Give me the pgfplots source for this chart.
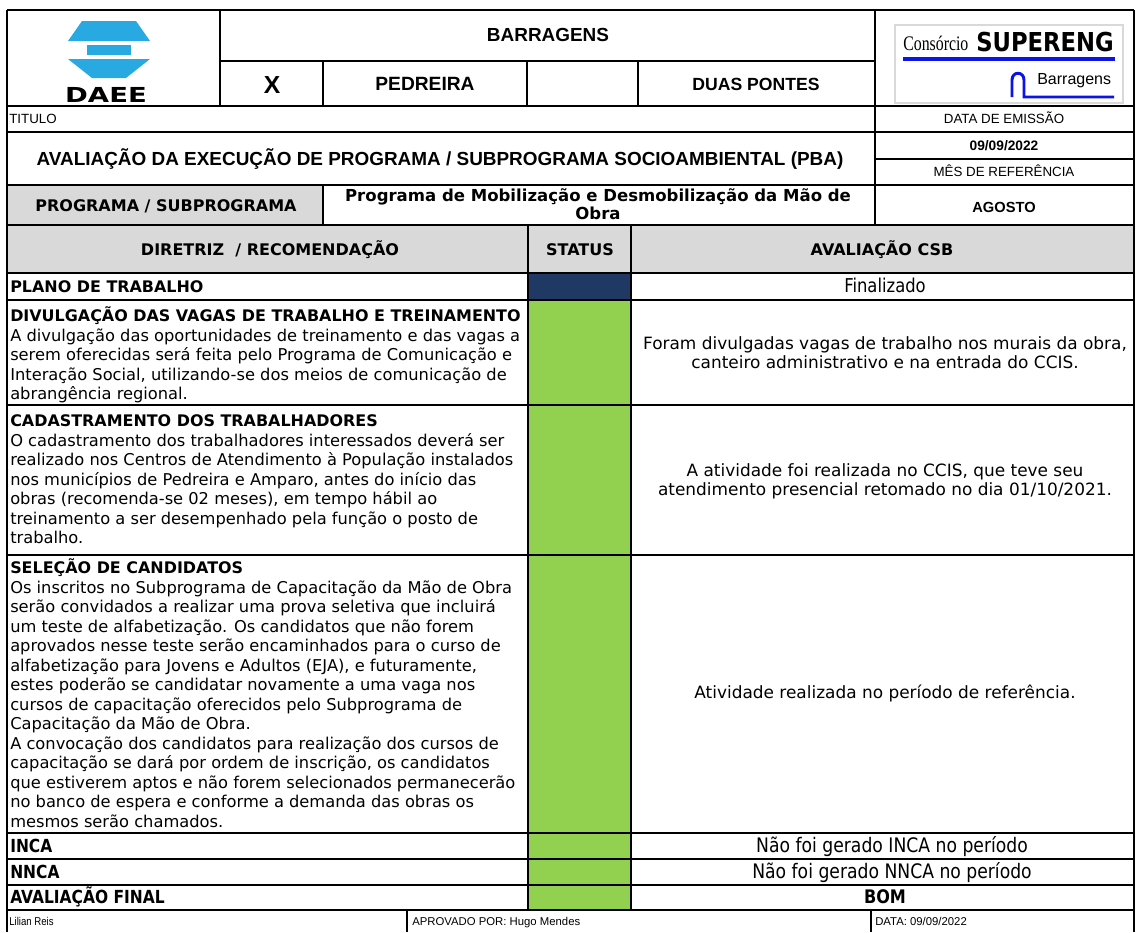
\documentclass[border=0pt]{standalone}
\usepackage{pgfplots}
\pgfplotsset{compat=1.18}
\usepackage{fontspec}
\usepackage{graphicx}
\setmainfont{DejaVu Sans}
\newfontfamily\arialf{Liberation Sans}
\newfontfamily\condf[FakeStretch=0.86]{DejaVu Sans}
\newfontfamily\timesf{Liberation Serif}
\newcommand{\fs}[1]{\fontsize{#1bp}{#1bp}\selectfont}
\definecolor{hdrgray}{HTML}{D9D9D9}
\definecolor{okgreen}{HTML}{92D050}
\definecolor{navy}{HTML}{1F3864}
\definecolor{daeeblue}{HTML}{29A9E1}
\definecolor{logoblue}{HTML}{0A14E6}
\newcommand{\bl}[2]{\node[anchor=base west,inner sep=0pt,font=\fs{12.2}] at (10,#1) {#2};}
\newcommand{\bh}[2]{\node[anchor=base west,inner sep=0pt,font=\fs{11.95}\bfseries] at (10,#1) {#2};}
\newcommand{\rc}[2]{\node[anchor=base,inner sep=0pt,font=\fs{12.7}] at (885,#1) {#2};}
\newcommand{\hl}[1]{\draw[line width=1.5bp] (7,#1) -- (1134,#1);}
\begin{document}
\begin{tikzpicture}
\begin{axis}[scale only axis, width=852bp, height=699bp,
  xmin=0, xmax=1136, ymin=0, ymax=932, y dir=reverse,
  hide axis, clip=false]
% background
\fill[white] (0,0) rectangle (1136,932);
% gray fills
\fill[hdrgray] (7,185) rectangle (323,225);
\fill[hdrgray] (7,225) rectangle (1134,273);
% status cells (data)
\addplot[fill=navy, draw=none] coordinates {(528,273) (631,273) (631,300) (528,300)} -- cycle;
\addplot[fill=okgreen, draw=none] coordinates {(528,300) (631,300) (631,405) (528,405)} -- cycle;
\addplot[fill=okgreen, draw=none] coordinates {(528,405) (631,405) (631,555) (528,555)} -- cycle;
\addplot[fill=okgreen, draw=none] coordinates {(528,555) (631,555) (631,833) (528,833)} -- cycle;
\addplot[fill=okgreen, draw=none] coordinates {(528,833) (631,833) (631,859) (528,859)} -- cycle;
\addplot[fill=okgreen, draw=none] coordinates {(528,859) (631,859) (631,885) (528,885)} -- cycle;
\addplot[fill=okgreen, draw=none] coordinates {(528,885) (631,885) (631,910) (528,910)} -- cycle;
% grid lines
\draw[line width=1.5bp] (7,10) -- (1134,10);
\draw[line width=1.5bp] (7,10) -- (7,932);
\draw[line width=1.5bp] (1134,10) -- (1134,932);
\hl{106}\hl{132}\hl{185}\hl{225}\hl{273}\hl{300}\hl{405}\hl{555}\hl{833}\hl{859}\hl{885}\hl{910}
\draw[line width=1.5bp] (220,61) -- (875,61);
\draw[line width=1.5bp] (875,159) -- (1134,159);
\draw[line width=1.5bp] (220,10) -- (220,106);
\draw[line width=1.5bp] (875,10) -- (875,225);
\draw[line width=1.5bp] (323,61) -- (323,106);
\draw[line width=1.5bp] (527,61) -- (527,106);
\draw[line width=1.5bp] (638,61) -- (638,106);
\draw[line width=1.5bp] (323,185) -- (323,225);
\draw[line width=1.5bp] (528,225) -- (528,910);
\draw[line width=1.5bp] (631,225) -- (631,910);
\draw[line width=1.5bp] (407,910) -- (407,932);
\draw[line width=1.5bp] (871,910) -- (871,932);
% DAEE logo
\fill[daeeblue] (82,21) -- (136,21) -- (150,41) -- (68,41) -- cycle;
\fill[daeeblue] (87,45) rectangle (131,55);
\fill[daeeblue] (68,59) -- (150,59) -- (126,78) -- (92,78) -- cycle;
\node[anchor=base,inner sep=0pt,font=\fs{15.5}\bfseries] at (106,102) {\scalebox{1.33}[1]{DAEE}};
% Consorcio logo
\draw[black!15, line width=0.8bp] (895,25) rectangle (1123,103);
\node[anchor=base west,inner sep=0pt,font=\timesf\fs{13.5}] at (903,50) {\scalebox{0.88}[1.15]{Consórcio}};
\node[anchor=base west,inner sep=0pt,font=\fs{17}\bfseries] at (976,51) {\scalebox{1}[1.15]{SUPERENG}};
\draw[logoblue, line width=3bp] (903,59) -- (1115,59);
\draw[logoblue, line width=2.2bp] (1012,97) -- (1012,80) .. controls (1012,71) and (1024,71) .. (1024,80) -- (1024,97) -- (1114,97);
\node[anchor=base west,inner sep=0pt,font=\arialf\fs{12}] at (1037,84) {Barragens};
% header texts
\node[anchor=base,inner sep=0pt,font=\arialf\fs{14.2}\bfseries] at (548,41) {BARRAGENS};
\node[anchor=base,inner sep=0pt,font=\arialf\fs{18.5}\bfseries] at (272,93) {X};
\node[anchor=base,inner sep=0pt,font=\arialf\fs{14.4}\bfseries] at (425,90) {PEDREIRA};
\node[anchor=base,inner sep=0pt,font=\arialf\fs{13.2}\bfseries] at (756,90) {DUAS PONTES};
\node[anchor=base west,inner sep=0pt,font=\arialf\fs{10}] at (9,123) {TITULO};
\node[anchor=base,inner sep=0pt,font=\arialf\fs{10}] at (1004,123) {DATA DE EMISSÃO};
\node[anchor=base,inner sep=0pt,font=\arialf\fs{14.2}\bfseries] at (440,165) {AVALIAÇÃO DA EXECUÇÃO DE PROGRAMA / SUBPROGRAMA SOCIOAMBIENTAL (PBA)};
\node[anchor=base,inner sep=0pt,font=\arialf\fs{10.3}\bfseries] at (1004,150) {09/09/2022};
\node[anchor=base,inner sep=0pt,font=\arialf\fs{10}] at (1004,176) {MÊS DE REFERÊNCIA};
\node[anchor=base,inner sep=0pt,font=\fs{12}\bfseries] at (166,211) {PROGRAMA / SUBPROGRAMA};
\node[anchor=base,inner sep=0pt,font=\fs{12.4}\bfseries] at (598,201) {Programa de Mobilização e Desmobilização da Mão de};
\node[anchor=base,inner sep=0pt,font=\fs{12.4}\bfseries] at (598,219) {Obra};
\node[anchor=base,inner sep=0pt,font=\arialf\fs{11}\bfseries] at (1004,212) {AGOSTO};
\node[anchor=base,inner sep=0pt,font=\fs{12}\bfseries] at (270,255) {DIRETRIZ\ \ / RECOMENDAÇÃO};
\node[anchor=base,inner sep=0pt,font=\fs{12}\bfseries] at (580,255) {STATUS};
\node[anchor=base,inner sep=0pt,font=\fs{12}\bfseries] at (882,255) {AVALIAÇÃO CSB};
% rows
\bh{292}{PLANO DE TRABALHO}
\node[anchor=base,inner sep=0pt,font=\condf\fs{14.3}] at (885,292) {Finalizado};
\bh{321.5}{DIVULGAÇÃO DAS VAGAS DE TRABALHO E TREINAMENTO}
\bl{341}{A divulgação das oportunidades de treinamento e das vagas a}
\bl{360.5}{serem oferecidas será feita pelo Programa de Comunicação e}
\bl{380}{Interação Social, utilizando-se dos meios de comunicação de}
\bl{399.5}{abrangência regional.}
\rc{349}{Foram divulgadas vagas de trabalho nos murais da obra,}
\rc{368}{canteiro administrativo e na entrada do CCIS.}
\bh{426.5}{CADASTRAMENTO DOS TRABALHADORES}
\bl{446}{O cadastramento dos trabalhadores interessados deverá ser}
\bl{465.5}{realizado nos Centros de Atendimento à População instalados}
\bl{485}{nos municípios de Pedreira e Amparo, antes do início das}
\bl{504.5}{obras (recomenda-se 02 meses), em tempo hábil ao}
\bl{524}{treinamento a ser desempenhado pela função o posto de}
\bl{543.5}{trabalho.}
\rc{476}{A atividade foi realizada no CCIS, que teve seu}
\rc{495}{atendimento presencial retomado no dia 01/10/2021.}
\bh{573.5}{SELEÇÃO DE CANDIDATOS}
\bl{593}{Os inscritos no Subprograma de Capacitação da Mão de Obra}
\bl{612.5}{serão convidados a realizar uma prova seletiva que incluirá}
\bl{632}{um teste de alfabetização. Os candidatos que não forem}
\bl{651.5}{aprovados nesse teste serão encaminhados para o curso de}
\bl{671}{alfabetização para Jovens e Adultos (EJA), e futuramente,}
\bl{690.5}{estes poderão se candidatar novamente a uma vaga nos}
\bl{710}{cursos de capacitação oferecidos pelo Subprograma de}
\bl{729.5}{Capacitação da Mão de Obra.}
\bl{749}{A convocação dos candidatos para realização dos cursos de}
\bl{768.5}{capacitação se dará por ordem de inscrição, os candidatos}
\bl{788}{que estiverem aptos e não forem selecionados permanecerão}
\bl{807.5}{no banco de espera e conforme a demanda das obras os}
\bl{827}{mesmos serão chamados.}
\rc{698}{Atividade realizada no período de referência.}
\node[anchor=base west,inner sep=0pt,font=\condf\fs{13.5}\bfseries] at (10,852.5) {INCA};
\node[anchor=base,inner sep=0pt,font=\condf\fs{15}] at (892,852.5) {Não foi gerado INCA no período};
\node[anchor=base west,inner sep=0pt,font=\condf\fs{13.5}\bfseries] at (10,878.5) {NNCA};
\node[anchor=base,inner sep=0pt,font=\condf\fs{15}] at (892,878.5) {Não foi gerado NNCA no período};
\node[anchor=base west,inner sep=0pt,font=\condf\fs{13.5}\bfseries] at (10,903.5) {AVALIAÇÃO FINAL};
\node[anchor=base,inner sep=0pt,font=\condf\fs{14}\bfseries] at (885,903.5) {BOM};
% footer
\node[anchor=base west,inner sep=0pt,font=\arialf\fs{8.5}] at (9,925) {\scalebox{0.85}[1]{Lilian Reis}};
\node[anchor=base west,inner sep=0pt,font=\arialf\fs{8.5}] at (412,925) {APROVADO POR: Hugo Mendes};
\node[anchor=base west,inner sep=0pt,font=\arialf\fs{8.5}] at (875,925) {DATA: 09/09/2022};
\end{axis}
\end{tikzpicture}
\end{document}
